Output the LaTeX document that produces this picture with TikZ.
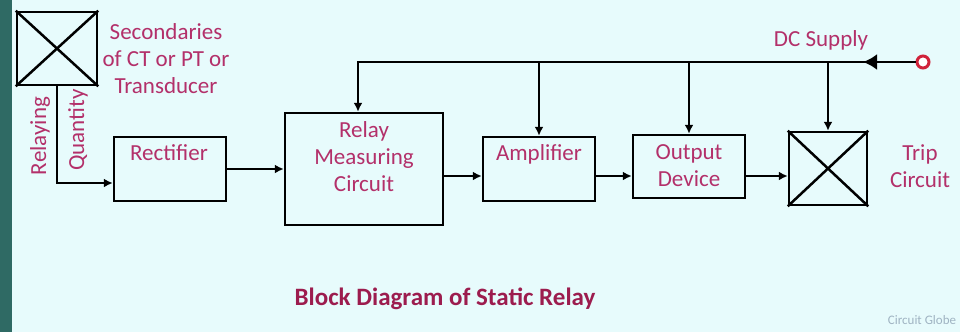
\documentclass[tikz,border=0pt]{standalone}
\usepackage{fontspec}
\setmainfont{Carlito}
\usetikzlibrary{arrows.meta, positioning, calc}
\definecolor{bgcyan}{HTML}{E7FBFC}
\definecolor{stripe}{HTML}{2F6A64}
\definecolor{lblpink}{HTML}{B3306A}
\definecolor{ttlred}{HTML}{9C1C4E}
\definecolor{logogray}{HTML}{9FB3C2}
\definecolor{dcred}{HTML}{D0223A}

\begin{document}
\begin{tikzpicture}[x=1pt, y=-1pt, >={Latex[length=9pt,width=9pt]},
        blk/.style={draw, rectangle, line width=2.5pt, inner sep=0pt},
        lbl/.style={text=lblpink, font=\fontsize{23}{27}\selectfont, align=center, inner sep=0pt},
        wire/.style={line width=2.5pt}]
        % Background
        \fill[bgcyan] (0,0) rectangle (960,332);
        \fill[stripe] (0,0) rectangle (12,332);
        \useasboundingbox (0,0) rectangle (960,332);

        % Source (CT / PT)
        \node[blk, minimum width=80pt, minimum height=73pt] (src) at (57,48.5) {};
        \draw[wire] (src.north west) -- (src.south east) (src.north east) -- (src.south west);
        \node[lbl] (srctxt) at (166,59) {Secondaries\\of CT or PT or\\Transducer};
        \node[lbl, rotate=90] (relaying) at (40,136) {Relaying};
        \node[lbl, rotate=90] (quantity) at (78,130) {Quantity};

        % Blocks
        \node[blk, minimum width=112pt, minimum height=64pt] (rect) at (170,169) {};
        \node[lbl] (recttxt) at (169,153) {Rectifier};
        \node[blk, minimum width=158pt, minimum height=112pt] (relay) at (364,169) {};
        \node[lbl] (relaytxt) at (364,157) {Relay\\Measuring\\Circuit};
        \node[blk, minimum width=112pt, minimum height=64pt] (amp) at (539,169) {};
        \node[lbl] (amptxt) at (539,154) {Amplifier};
        \node[blk, minimum width=112pt, minimum height=63pt] (outdev) at (689,166.5) {};
        \node[lbl] (outtxt) at (689,166) {Output\\Device};

        % Trip circuit
        \node[blk, minimum width=78pt, minimum height=73pt] (trip) at (828,168.5) {};
        \draw[wire] (trip.north west) -- (trip.south east) (trip.north east) -- (trip.south west);
        \node[lbl] (triptxt) at (920,166) {Trip\\Circuit};

        % DC supply
        \node[circle, draw=dcred, fill=white, line width=3pt, minimum size=12pt, inner sep=0pt] (dcin) at (923,62) {};
        \node[lbl] (dctxt) at (821,40) {DC Supply};
        \coordinate (bus) at (358,62);
        \coordinate (dchead) at (863,62);
        \draw[wire, ->] (dcin.west) -- (bus) -- (bus |- relay.north);
        \draw[wire, -{Latex[length=14pt,width=16pt]}] (dcin.west) -- (dchead);
        \foreach \n in {amp, outdev, trip} {
            \draw[wire, ->] (\n.north |- bus) -- (\n.north);
        }

        % Signal path
        \draw[wire, ->] (src.south) |- ([yshift=-14pt]rect.west);
        \draw[wire, ->] (rect.east) -- (rect.east -| relay.west);
        \draw[wire, ->] ([yshift=-7pt]relay.east) -- ([yshift=-7pt]relay.east -| amp.west);
        \draw[wire, ->] ([yshift=-7pt]amp.east) -- ([yshift=-7pt]amp.east -| outdev.west);
        \draw[wire, ->] ([yshift=-9.5pt]outdev.east) -- ([yshift=-9.5pt]outdev.east -| trip.west);

        % Caption
        \node[text=ttlred, font=\fontsize{25}{30}\selectfont\bfseries, inner sep=0pt] (title) at (445,299) {Block Diagram of Static Relay};
        \node[text=logogray, font=\fontsize{13}{15}\selectfont, inner sep=0pt] (logo) at (922,320) {Circuit Globe};
    \end{tikzpicture}
\end{document}
